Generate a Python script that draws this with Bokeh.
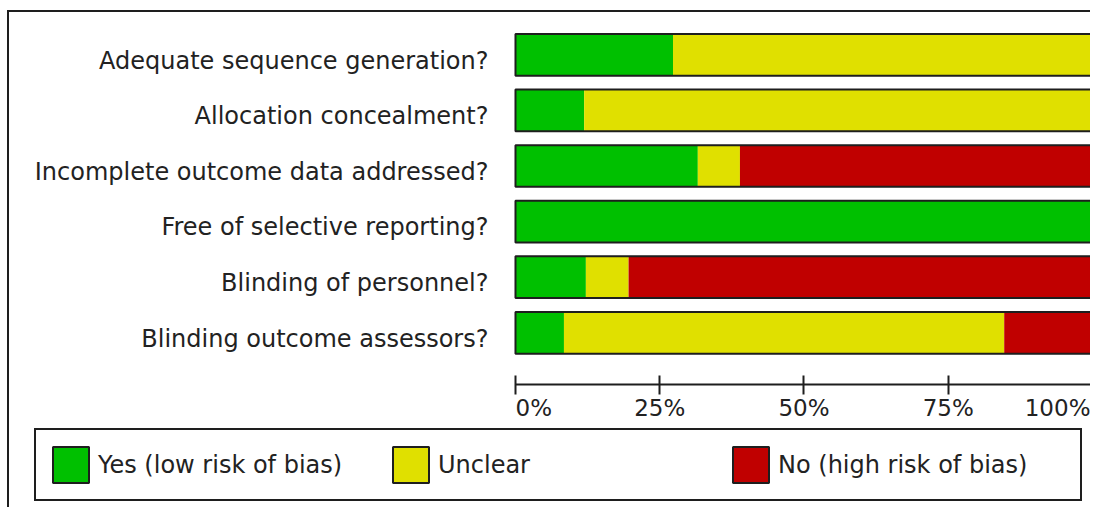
from bokeh.plotting import figure
from bokeh.models import Range1d, FixedTicker, Legend, LegendItem, ColumnDataSource
from bokeh.embed import file_html
from bokeh.resources import INLINE

# ---- data -------------------------------------------------------------
categories = [
    "Adequate sequence generation?",
    "Allocation concealment?",
    "Incomplete outcome data addressed?",
    "Free of selective reporting?",
    "Blinding of personnel?",
    "Blinding outcome assessors?",
]
yes_pct = [27.3, 11.9, 31.6, 100.0, 12.2, 8.4]
unclear_pct = [72.7, 88.1, 7.3, 0.0, 7.4, 76.3]
no_pct = [0.0, 0.0, 61.1, 0.0, 80.4, 15.3]
series_labels = ["Yes (low risk of bias)", "Unclear", "No (high risk of bias)"]
tick_values = [0, 25, 50, 75, 100]
tick_labels = ["0%", "25%", "50%", "75%", "100%"]

# ---- styling ----------------------------------------------------------
colors = ["#00C000", "#E0E000", "#C00000"]
FONT = "DejaVu Sans"
TEXT = "#222222"
LINE = "#1e1e1e"
BAR_H = 0.75
LABEL_SHIFT = 0.105   # category labels sit slightly below bar centre
AXIS_Y = -0.93        # where the percentage axis is drawn

n = len(categories)
ys = [n - 1 - i for i in range(n)]

W, H = 1083, 497
p = figure(
    width=W, height=H,
    output_backend="svg", toolbar_location=None, title=None,
    x_range=Range1d(-87.69, 100), y_range=Range1d(-3.178, 5.761),
    min_border=0,
    outline_line_color=None,
    background_fill_color="white", border_fill_color="white",
)
p.margin = (10, 0, 0, 7)
p.styles = {"border-top": f"2px solid {LINE}", "border-left": f"2px solid {LINE}"}
p.grid.visible = False

# stacked segments
series = [yes_pct, unclear_pct, no_pct]
seg_renderers = []
left = [0.0] * n
for k, vals in enumerate(series):
    right = [l + v for l, v in zip(left, vals)]
    src = ColumnDataSource(dict(y=ys, left=left, right=right))
    r = p.hbar(y="y", left="left", right="right", height=BAR_H, source=src,
               fill_color=colors[k], line_color=None)
    seg_renderers.append(r)
    left = right

# bar outlines
outline = p.hbar(y=ys, left=0, right=100, height=BAR_H, fill_color=None,
                 line_color=LINE, line_width=2)

# x axis (percent scale)
xa = p.xaxis[0]
xa.fixed_location = AXIS_Y
xa.bounds = (tick_values[0], tick_values[-1])
xa.ticker = FixedTicker(ticks=tick_values)
shown = list(tick_labels)
shown[0] = "\u00a0" * 5 + shown[0]
xa.major_label_overrides = {t: s for t, s in zip(tick_values, shown)}
xa.axis_line_color = LINE
xa.axis_line_width = 2
xa.major_tick_line_color = LINE
xa.major_tick_line_width = 2
xa.major_tick_in = 9
xa.major_tick_out = 10
xa.minor_tick_line_color = None
xa.major_label_text_font = FONT
xa.major_label_text_font_size = "23px"
xa.major_label_text_color = TEXT
xa.major_label_standoff = 0

# y axis (category labels)
ya = p.yaxis[0]
ya.fixed_location = 0
yticks = [y - LABEL_SHIFT for y in ys]
ya.ticker = FixedTicker(ticks=yticks)
ya.major_label_overrides = {t: c for t, c in zip(yticks, categories)}
ya.axis_line_color = None
ya.major_tick_line_color = None
ya.minor_tick_line_color = None
ya.major_tick_in = 0
ya.major_tick_out = 0
ya.major_label_standoff = 27
ya.major_label_text_font = FONT
ya.major_label_text_font_size = "24px"
ya.major_label_text_color = TEXT

# legend: coloured swatch with the black bar outline drawn over it
items = [LegendItem(label=lab, renderers=[seg_renderers[k], outline])
         for k, lab in enumerate(series_labels)]

legend = Legend(
    items=items, orientation="horizontal", location=(25, 8),
    glyph_width=45, glyph_height=45, label_standoff=5, label_width=290,
    spacing=0, padding=12, margin=0,
    border_line_color=LINE, border_line_width=2, border_line_alpha=1.0,
    background_fill_color="white", background_fill_alpha=1.0,
    label_text_font=FONT, label_text_font_size="24px", label_text_color=TEXT,
)
p.add_layout(legend, "center")

open("out.html", "w").write(file_html(p, INLINE))
